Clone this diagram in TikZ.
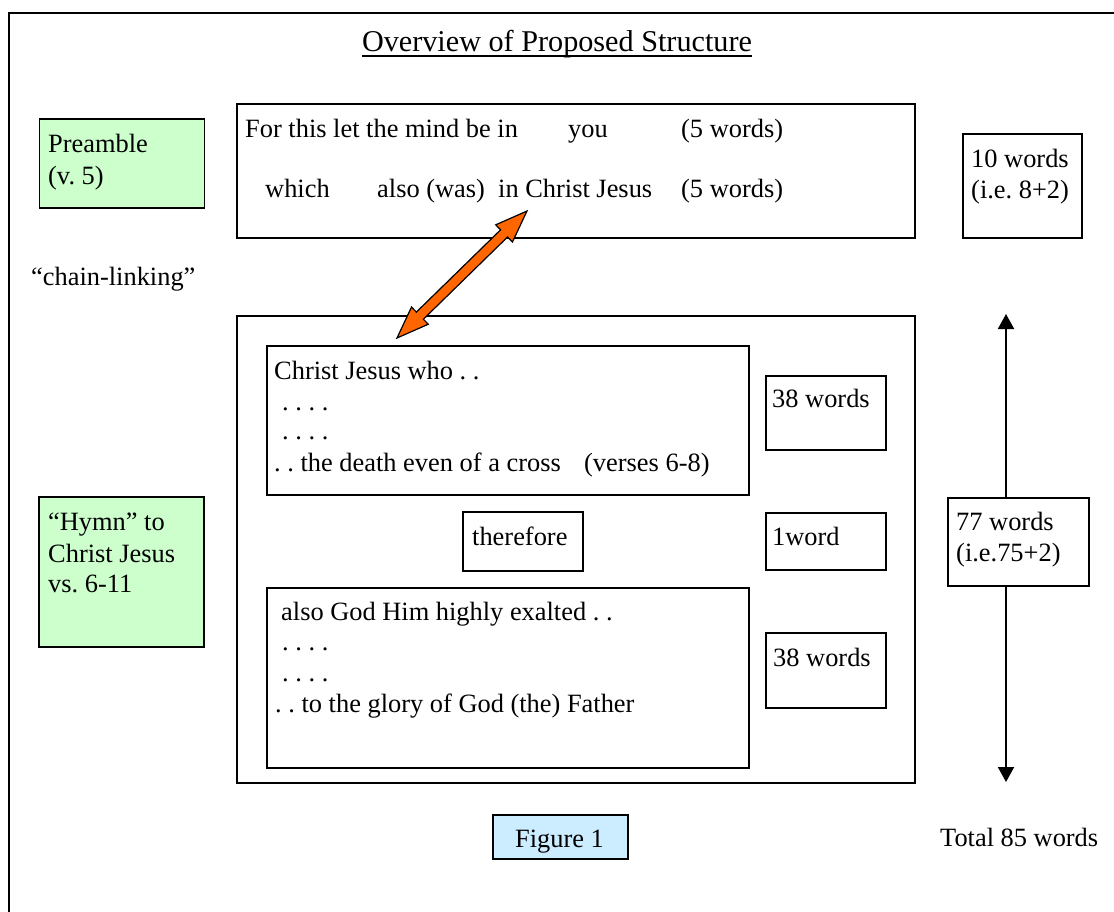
\documentclass[tikz,border=0pt]{standalone}
\usepackage{fontspec}
\setmainfont{Liberation Serif}
\usetikzlibrary{arrows.meta}
\definecolor{pgreen}{HTML}{CCFFCC}
\definecolor{pblue}{HTML}{CCECFF}
\definecolor{porange}{HTML}{FF6600}
\newcommand\fbody{\fontsize{26.4}{31.7}\selectfont\frenchspacing}
\newcommand\ftitle{\fontsize{30.2}{36}\selectfont}
\begin{document}
\begin{tikzpicture}[x=1pt,y=-1pt,
 bx/.style={draw, line width=1.6pt, inner sep=0pt, anchor=north west},
 tx/.style={anchor=base west, inner sep=0pt, font=\fbody},
 varr/.style={line width=2pt, -{Triangle[length=15pt,width=16pt]}},
 oarr/.style={draw=black, fill=porange, line width=1.2pt, line join=miter}]
\useasboundingbox (0,0) rectangle (1114,911);
\fill[white] (0,0) rectangle (1114,911);
% outer frame (only top and left visible)
\draw[line width=2.4pt] (1120,12.7) -- (9,12.7) -- (9,920);

% title
\node[anchor=base, inner sep=0pt, font=\ftitle] (title) at (557,51) {Overview of Proposed Structure};
\draw[line width=1.5pt] ([yshift=-5pt]title.base west) -- ([yshift=-5pt]title.base east);

% boxes
\node[bx, fill=pgreen, minimum width=165pt, minimum height=89pt] (pre) at (38.6,118) {};
\node[bx, minimum width=678pt, minimum height=134pt] (top) at (236,103) {};
\node[bx, minimum width=119pt, minimum height=104pt] (ten) at (962,133) {};
\node[bx, minimum width=678pt, minimum height=467pt] (big) at (236,315) {};
\node[bx, minimum width=482pt, minimum height=149pt] (inA) at (266,345) {};
\node[bx, minimum width=120pt, minimum height=74pt] (wA) at (765,375) {};
\node[bx, minimum width=120pt, minimum height=59pt] (ther) at (462,511) {};
\node[bx, minimum width=120pt, minimum height=57pt] (one) at (765,512) {};
\node[bx, minimum width=482pt, minimum height=180pt] (inB) at (266,587) {};
\node[bx, minimum width=120pt, minimum height=75pt] (wB) at (765,632) {};
\node[bx, fill=pgreen, minimum width=165pt, minimum height=150pt] (hymn) at (38,496) {};
\node[bx, minimum width=141pt, minimum height=88pt] (sev) at (947,497) {};
\node[bx, fill=pblue, minimum width=135pt, minimum height=44pt] (fig) at (492,814) {};

% texts
\node[tx] (pre1) at (48,152) {Preamble};
\node[tx] (pre2) at (48,184) {(v. 5)};
\node[tx] (t1a) at (245,137) {For this let the mind be in};
\node[tx] (t1b) at (568,137) {you};
\node[tx] (t1c) at (681,137) {(5 words)};
\node[tx] (t2a) at (265,197) {which};
\node[tx] (t2b) at (377,197) {also (was)};
\node[tx] (t2c) at (498,197) {in Christ Jesus};
\node[tx] (t2d) at (681,197) {(5 words)};
\node[tx] (ten1) at (971,167) {10 words};
\node[tx] (ten2) at (971,198) {(i.e. 8+2)};
\node[tx] (chain) at (31,285) {“chain-linking”};
\node[tx] (a1) at (274,379) {Christ Jesus who . .};
\node[tx] (a2) at (282,410) {. . . .};
\node[tx] (a3) at (282,439) {. . . .};
\node[tx] (a4) at (274,471) {. . the death even of a cross};
\node[tx] (a5) at (584,471) {(verses 6-8)};
\node[tx] (wA1) at (772,407) {38 words};
\node[tx] (ther1) at (472,545) {therefore};
\node[tx] (one1) at (772,545) {1word};
\node[tx] (b1) at (281,620) {also God Him highly exalted . .};
\node[tx] (b2) at (282,650) {. . . .};
\node[tx] (b3) at (282,681) {. . . .};
\node[tx] (b4) at (275,712) {. . to the glory of God (the) Father};
\node[tx] (wB1) at (773,666) {38 words};
\node[tx] (h1) at (48,530) {“Hymn” to};
\node[tx] (h2) at (48,562) {Christ Jesus};
\node[tx] (h3) at (48,592) {vs. 6-11};
\node[tx] (s1) at (956,530) {77 words};
\node[tx] (s2) at (956,561) {(i.e.75+2)};
\node[anchor=base, inner sep=0pt, font=\fbody] (fig1) at (559.5,847) {Figure 1};
\node[tx] (total) at (940,846) {Total 85 words};

% vertical double arrow through the 77-words box
\coordinate (vt) at (1006,314);
\coordinate (vb) at (1006,782);
\draw[varr] (vt |- sev.north) -- (vt);
\draw[varr] (vt |- sev.south) -- (vb);

% orange double arrow
\coordinate (oa) at (397,338);
\coordinate (ob) at (527,211);
\begin{scope}[shift={(oa)}, rotate=44.33]
 \draw[oarr] (0,0) -- (32,12) -- (32,5) -- (149.7,5) -- (149.7,12) -- (181.7,0)
   -- (149.7,-12) -- (149.7,-5) -- (32,-5) -- (32,-12) -- cycle;
\end{scope}
\end{tikzpicture}
\end{document}
